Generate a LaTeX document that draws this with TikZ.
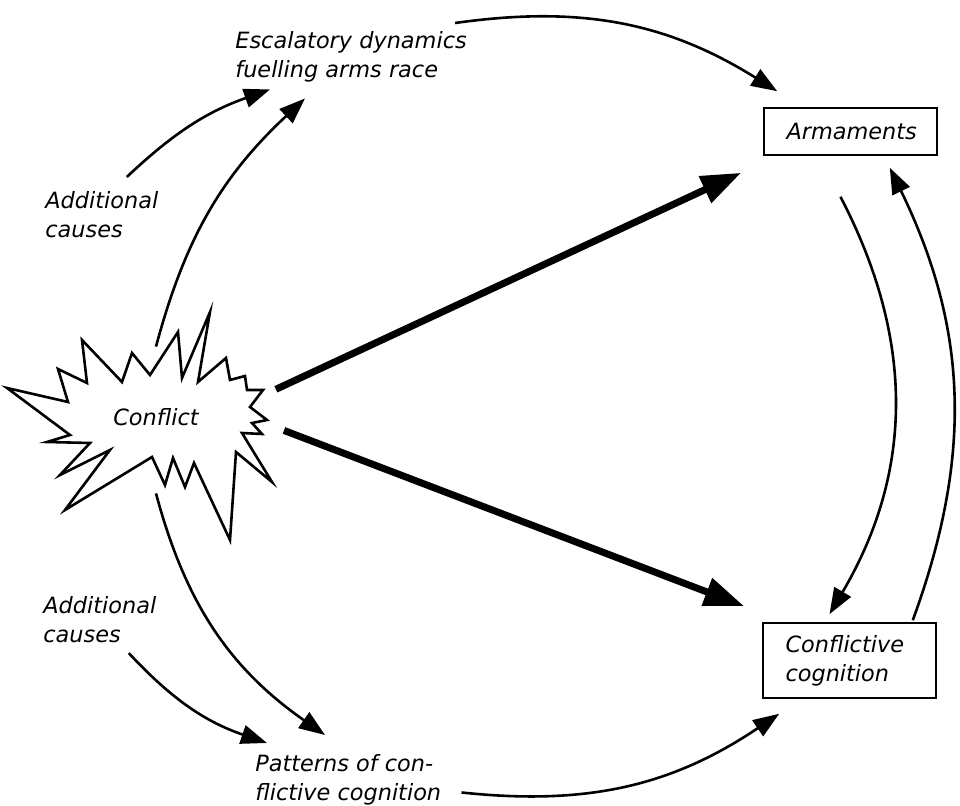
\documentclass[tikz,border=0pt]{standalone}
\usepackage{fontspec}
\setmainfont{DejaVu Sans}
\usetikzlibrary{arrows.meta,shapes.geometric}
\tikzset{
  lbl/.style={align=left, inner sep=0pt, font=\fontsize{11.2}{14.5}\selectfont\itshape},
  box/.style={draw, line width=0.8pt, minimum width=86.5pt, text width=64pt,
    inner xsep=11.25pt, inner ysep=0pt, align=left, font=\fontsize{11.2}{14.5}\selectfont\itshape},
  arr/.style={line width=1.3pt, -{Triangle[length=13pt,width=9.5pt]}},
  bigarr/.style={line width=3.5pt, -{Triangle[length=20pt,width=14pt]}}
}

\begin{document}
\begin{tikzpicture}[x=0.5pt, y=0.5pt]
  \useasboundingbox (0,0) rectangle (960,-806);

  % the burst round "Conflict"
  \draw [line width=1.3pt, line join=miter]
    (7,-388) -- (68,-402) -- (58,-369) -- (87,-383) -- (82,-340) -- (122,-382)
    -- (132,-353) -- (150,-375) -- (178,-332) -- (182,-378) -- (210,-312)
    -- (198,-382) -- (226,-358) -- (230,-380) -- (245,-376) -- (247,-390)
    -- (263,-390) -- (250,-407) -- (267,-420) -- (252,-423) -- (262,-434)
    -- (242,-433) -- (272,-482) -- (236,-452) -- (230,-540) -- (194,-463)
    -- (185,-487) -- (173,-458) -- (165,-485) -- (152,-457) -- (65,-510)
    -- (110,-450) -- (60,-475) -- (90,-443) -- (47,-442) -- (70,-435) -- cycle;

  \node (conflict) [ellipse, minimum width=130pt, minimum height=70pt, inner sep=0pt,
    font=\fontsize{11.2}{14.5}\selectfont\itshape] at (156,-417) {Conflict};

  \node (arm) [box, minimum height=23.5pt] at (850.5,-131.5) {Armaments};
  \node (cog) [box, minimum height=37.5pt] at (849.5,-660.5) {Conflictive\\cognition};

  \node (escal)  [lbl, anchor=north west] at (235,-31)  {Escalatory dynamics\\fuelling arms race};
  \node (addtop) [lbl, anchor=north west] at (45,-191)  {Additional\\causes};
  \node (addbot) [lbl, anchor=north west] at (43,-596)  {Additional\\causes};
  \node (pat)    [lbl, anchor=north west] at (255,-754) {Patterns of con-\\flictive cognition};

  % upper branch
  \draw [arr] ([xshift=12.5pt,yshift=7pt]addtop.north) to[bend left=12]
              ([xshift=17.5pt,yshift=-3.5pt]escal.south west);
  \draw [arr] (conflict.north) to[bend left=16]
              ([xshift=35pt,yshift=-8pt]escal.south west);
  \draw [arr] ([xshift=-6pt,yshift=4pt]escal.north east) to[bend left=20]
              ([xshift=7pt,yshift=8pt]arm.north west);

  % direct effects
  \draw [bigarr] (conflict.13.5) -- ([xshift=-11pt,yshift=-8.5pt]arm.south west);
  \draw [bigarr] (conflict.-6.7) -- ([xshift=-9pt,yshift=8pt]cog.north west);

  % feedback loop
  \draw [arr] ([xshift=-5pt,yshift=-20.5pt]arm.south) to[bend left=29]
              ([xshift=-10pt,yshift=4pt]cog.north);
  \draw [arr] ([xshift=-12pt,yshift=1pt]cog.north east) to[bend right=23]
              ([xshift=-24pt,yshift=-6pt]arm.south east);

  % lower branch
  \draw [arr] ([yshift=-3pt]conflict.south) to[bend right=20]
              ([xshift=35pt,yshift=9.5pt]pat.north west);
  \draw [arr] ([xshift=14.5pt,yshift=-5pt]addbot.south) to[bend right=14]
              ([xshift=6pt,yshift=5.5pt]pat.north west);
  \draw [arr] ([xshift=10pt,yshift=6.5pt]pat.south east) to[bend right=20]
              ([xshift=8.5pt,yshift=-7.5pt]cog.south west);
\end{tikzpicture}
\end{document}
